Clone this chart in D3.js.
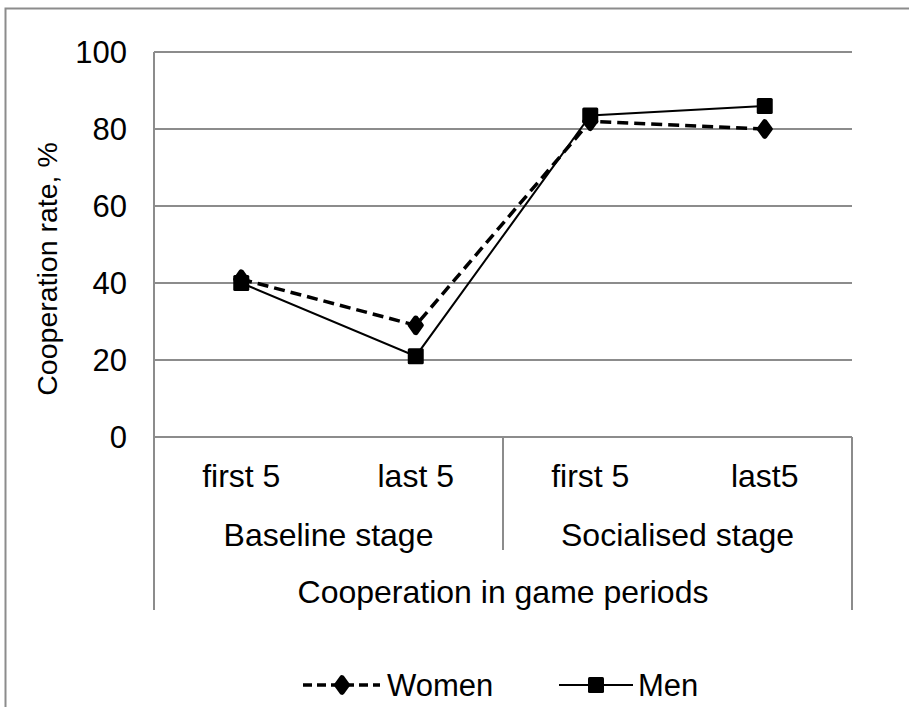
<!DOCTYPE html>
<html>
<head>
<meta charset="utf-8">
<script src="https://cdn.jsdelivr.net/npm/d3@7"></script>
<style>
  body { margin: 0; background: #fff; }
  text { font-family: "Liberation Sans", Arial, sans-serif; fill: #000; }
</style>
</head>
<body>
<svg id="chart" width="909" height="707"></svg>
<script>
const periods = ["first 5", "last 5", "first 5", "last5"];
const stages = ["Baseline stage", "Socialised stage"];
const women = [41, 29, 82, 80];
const men = [40, 21, 83.5, 86];
const yTicks = [0, 20, 40, 60, 80, 100];

const fontSize = "31px";
const catFont = "32px";

const svg = d3.select("#chart");
const margin = { left: 154, right: 57, top: 52, bottom: 270 };
const width = 909 - margin.left - margin.right;
const height = 707 - margin.top - margin.bottom;

// outer frame
svg.append("path")
  .attr("d", "M5.5,707 V8.5 H909")
  .attr("fill", "none")
  .attr("stroke", "#8c8c8c")
  .attr("stroke-width", 2);

const g = svg.append("g").attr("transform", `translate(${margin.left},${margin.top})`);

const x = d3.scaleBand().domain(d3.range(periods.length)).range([0, width]);
const y = d3.scaleLinear().domain([0, 100]).range([height, 0]);

// gridlines
g.selectAll(".grid")
  .data(yTicks)
  .enter()
  .append("line")
  .attr("x1", 0)
  .attr("x2", width)
  .attr("y1", (d) => y(d))
  .attr("y2", (d) => y(d))
  .attr("stroke", "#8c8c8c")
  .attr("stroke-width", 2);

// y axis line
g.append("line")
  .attr("x1", 0).attr("x2", 0)
  .attr("y1", 0).attr("y2", height)
  .attr("stroke", "#8c8c8c")
  .attr("stroke-width", 2);

g.selectAll(".ytick")
  .data(yTicks)
  .enter()
  .append("text")
  .attr("x", -27)
  .attr("y", (d) => y(d))
  .attr("dy", "0.36em")
  .attr("text-anchor", "end")
  .style("font-size", fontSize)
  .text((d) => d);

// multi-level category axis
const lvl = { periods: 38, stages: 97, title: 154, stageLine: 113, outerLine: 173 };

g.selectAll(".outer")
  .data([0, width])
  .enter()
  .append("line")
  .attr("x1", (d) => d).attr("x2", (d) => d)
  .attr("y1", height).attr("y2", height + lvl.outerLine)
  .attr("stroke", "#8c8c8c")
  .attr("stroke-width", 2);

g.append("line")
  .attr("x1", x(2)).attr("x2", x(2))
  .attr("y1", height).attr("y2", height + lvl.stageLine)
  .attr("stroke", "#8c8c8c")
  .attr("stroke-width", 2);

g.selectAll(".period")
  .data(periods)
  .enter()
  .append("text")
  .attr("x", (d, i) => x(i) + x.bandwidth() / 2)
  .attr("y", height + lvl.periods)
  .attr("dy", "0.36em")
  .attr("text-anchor", "middle")
  .style("font-size", catFont)
  .text((d) => d);

g.selectAll(".stage")
  .data(stages)
  .enter()
  .append("text")
  .attr("x", (d, i) => x(i * 2) + x.bandwidth())
  .attr("y", height + lvl.stages)
  .attr("dy", "0.36em")
  .attr("text-anchor", "middle")
  .style("font-size", catFont)
  .text((d) => d);

g.append("text")
  .attr("x", width / 2)
  .attr("y", height + lvl.title)
  .attr("dy", "0.36em")
  .attr("text-anchor", "middle")
  .style("font-size", catFont)
  .text("Cooperation in game periods");

svg.append("text")
  .attr("transform", "translate(47,269) rotate(-90)")
  .attr("text-anchor", "middle")
  .attr("dy", "0.36em")
  .style("font-size", "28.5px")
  .text("Cooperation rate, %");

// series
const line = d3.line()
  .x((d, i) => x(i) + x.bandwidth() / 2)
  .y((d) => y(d));

g.append("path")
  .datum(women)
  .attr("d", line)
  .attr("fill", "none")
  .attr("stroke", "#000")
  .attr("stroke-width", 3.5)
  .attr("stroke-dasharray", "11,6");

g.append("path")
  .datum(men)
  .attr("d", line)
  .attr("fill", "none")
  .attr("stroke", "#000")
  .attr("stroke-width", 2);

const diamond = d3.symbol().type(d3.symbolDiamond).size(70);

g.selectAll(".wm")
  .data(women)
  .enter()
  .append("path")
  .attr("d", diamond)
  .attr("transform", (d, i) => `translate(${x(i) + x.bandwidth() / 2},${y(d)}) scale(1.25,1)`)
  .attr("fill", "#000")
  .attr("stroke", "#000")
  .attr("stroke-width", 4)
  .attr("stroke-linejoin", "round");

g.selectAll(".mm")
  .data(men)
  .enter()
  .append("rect")
  .attr("x", (d, i) => x(i) + x.bandwidth() / 2 - 8)
  .attr("y", (d) => y(d) - 8)
  .attr("width", 16)
  .attr("height", 16)
  .attr("rx", 1.5)
  .attr("fill", "#000");

// legend
const legend = svg.append("g").attr("transform", "translate(0,685)");

legend.append("line")
  .attr("x1", 303).attr("x2", 380)
  .attr("y1", 0).attr("y2", 0)
  .attr("stroke", "#000")
  .attr("stroke-width", 3.5)
  .attr("stroke-dasharray", "9,5");
legend.append("path")
  .attr("d", diamond)
  .attr("transform", "translate(342,0) scale(1.25,1)")
  .attr("fill", "#000")
  .attr("stroke", "#000")
  .attr("stroke-width", 4)
  .attr("stroke-linejoin", "round");
legend.append("text")
  .attr("x", 387).attr("y", 0).attr("dy", "0.36em")
  .style("font-size", fontSize)
  .text("Women");

legend.append("line")
  .attr("x1", 559).attr("x2", 633)
  .attr("y1", 0).attr("y2", 0)
  .attr("stroke", "#000")
  .attr("stroke-width", 2);
legend.append("rect")
  .attr("x", 588).attr("y", -8)
  .attr("width", 16).attr("height", 16)
  .attr("rx", 1.5)
  .attr("fill", "#000");
legend.append("text")
  .attr("x", 638).attr("y", 0).attr("dy", "0.36em")
  .style("font-size", fontSize)
  .text("Men");
</script>
</body>
</html>
